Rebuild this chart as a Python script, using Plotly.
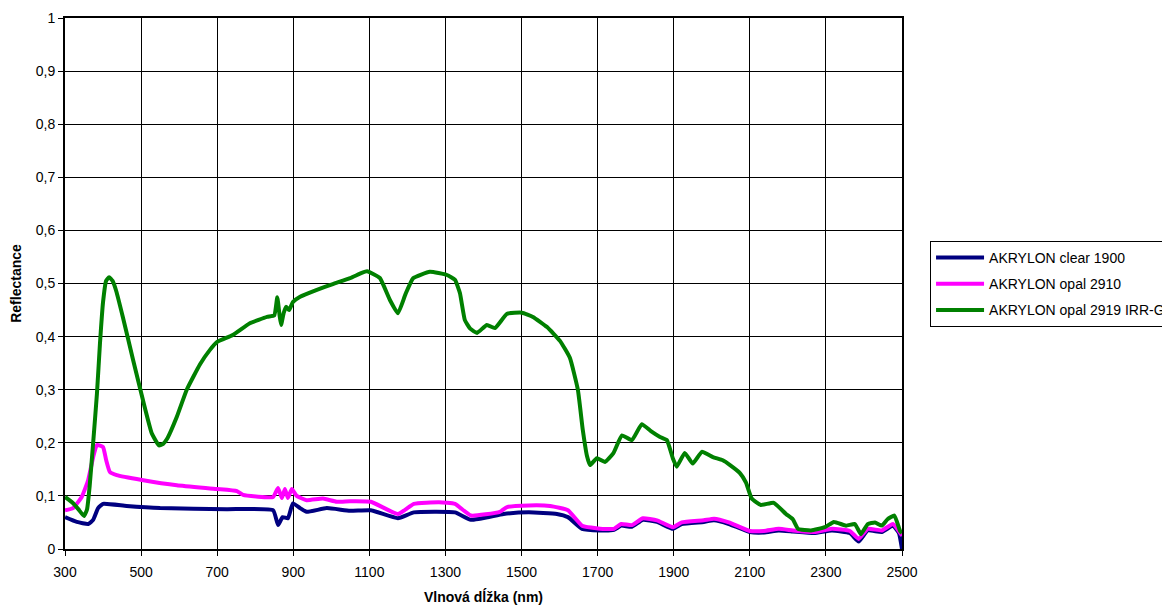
import plotly.graph_objects as go

clear_nm = [300, 331, 361, 374, 387, 400, 462, 550, 725, 847, 860, 872, 886, 899, 918, 935, 988, 1049,
            1104, 1175, 1217, 1325, 1367, 1453, 1519, 1593, 1622, 1659, 1706, 1743, 1762, 1790, 1819, 1856,
            1898, 1921, 1979, 2006, 2045, 2100, 2137, 2176, 2213, 2269, 2316, 2363, 2386, 2410, 2447, 2476,
            2492, 2500]
clear_r = [0.06, 0.051, 0.047, 0.055, 0.077, 0.085, 0.081, 0.077, 0.075, 0.073, 0.045, 0.06, 0.058, 0.086,
           0.077, 0.07, 0.077, 0.072, 0.073, 0.058, 0.069, 0.069, 0.055, 0.066, 0.069, 0.066, 0.06, 0.038,
           0.035, 0.036, 0.044, 0.042, 0.055, 0.051, 0.038, 0.047, 0.051, 0.054, 0.047, 0.032, 0.031, 0.035,
           0.033, 0.03, 0.035, 0.03, 0.014, 0.035, 0.032, 0.044, 0.03, 0.0]

opal_nm = [300, 321, 344, 361, 374, 384, 400, 408, 418, 436, 502, 594, 699, 752, 768, 847, 860, 870, 878,
           886, 896, 909, 935, 978, 1014, 1049, 1104, 1175, 1217, 1283, 1325, 1367, 1443, 1462, 1519, 1575,
           1622, 1659, 1706, 1743, 1762, 1790, 1819, 1856, 1898, 1921, 1979, 2006, 2045, 2100, 2137, 2176,
           2213, 2269, 2316, 2363, 2386, 2410, 2447, 2476, 2500]
opal_r = [0.073, 0.077, 0.098, 0.13, 0.173, 0.196, 0.192, 0.168, 0.145, 0.139, 0.13, 0.12, 0.113, 0.109,
          0.102, 0.098, 0.115, 0.096, 0.113, 0.096, 0.113, 0.1, 0.092, 0.095, 0.089, 0.09, 0.089, 0.066,
          0.085, 0.088, 0.085, 0.063, 0.07, 0.079, 0.082, 0.081, 0.073, 0.044, 0.038, 0.038, 0.047, 0.045,
          0.058, 0.054, 0.041, 0.05, 0.054, 0.057, 0.05, 0.034, 0.034, 0.038, 0.035, 0.032, 0.038, 0.034,
          0.019, 0.038, 0.035, 0.047, 0.025]

irr_nm = [300, 320, 335, 350, 358, 365, 374, 384, 392, 400, 408, 416, 425, 435, 452, 479, 505, 528, 547,
          558, 568, 594, 620, 655, 681, 700, 741, 786, 831, 850, 858, 864, 868, 875, 881, 889, 899, 918,
          962, 1004, 1049, 1080, 1094, 1110, 1128, 1154, 1175, 1195, 1215, 1259, 1304, 1325, 1338, 1351,
          1365, 1383, 1409, 1430, 1462, 1501, 1530, 1567, 1601, 1627, 1648, 1661, 1672, 1680, 1698, 1719,
          1741, 1764, 1790, 1816, 1840, 1864, 1882, 1898, 1908, 1929, 1950, 1974, 2003, 2029, 2048, 2074,
          2090, 2105, 2129, 2163, 2195, 2213, 2227, 2261, 2297, 2321, 2353, 2376, 2392, 2410, 2429, 2447,
          2462, 2480, 2495, 2500]
irr_r = [0.098, 0.087, 0.075, 0.062, 0.075, 0.12, 0.2, 0.293, 0.388, 0.465, 0.505, 0.512, 0.505, 0.485,
         0.437, 0.356, 0.28, 0.218, 0.195, 0.198, 0.207, 0.249, 0.3, 0.348, 0.375, 0.39, 0.403, 0.425,
         0.437, 0.44, 0.474, 0.44, 0.422, 0.445, 0.456, 0.45, 0.465, 0.475, 0.488, 0.499, 0.51, 0.52, 0.523,
         0.518, 0.51, 0.469, 0.444, 0.48, 0.51, 0.522, 0.516, 0.507, 0.482, 0.431, 0.415, 0.407, 0.422,
         0.416, 0.443, 0.445, 0.437, 0.418, 0.392, 0.36, 0.3, 0.224, 0.175, 0.158, 0.171, 0.164, 0.18,
         0.214, 0.205, 0.235, 0.222, 0.211, 0.205, 0.17, 0.155, 0.181, 0.161, 0.183, 0.173, 0.167, 0.158,
         0.143, 0.125, 0.095, 0.083, 0.087, 0.066, 0.056, 0.038, 0.035, 0.041, 0.051, 0.044, 0.047, 0.028,
         0.047, 0.05, 0.044, 0.056, 0.063, 0.034, 0.03]

names = ["AKRYLON clear 1900", "AKRYLON opal 2910", "AKRYLON opal 2919 IRR-GOLD"]
colors = ["#000080", "#FF00FF", "#008000"]

x_ticks = list(range(300, 2501, 200))
y_ticks = [i / 10 for i in range(11)]
y_labels = ["0"] + [f"0,{i}" for i in range(1, 10)] + ["1"]

fig = go.Figure()
for nm, r, name, col in zip([clear_nm, opal_nm, irr_nm], [clear_r, opal_r, irr_r], names, colors):
    fig.add_trace(go.Scatter(x=nm, y=r, mode="lines", name=name, legendgroup=name,
                             line=dict(color=col, width=4, shape="spline", smoothing=0.4)))

fnt = dict(family="Liberation Sans, Arial, sans-serif", size=14, color="black")
fig.update_layout(
    width=1162, height=597,
    margin=dict(l=57, r=268, t=10, b=56, autoexpand=False),
    paper_bgcolor="white", plot_bgcolor="white",
    font=fnt,
    showlegend=True,
    legend=dict(x=1.0335, y=0.5800, xanchor="left", yanchor="top",
                bordercolor="black", borderwidth=1, bgcolor="white",
                font=dict(family="Liberation Sans, Arial, sans-serif", size=14, color="black"),
                tracegroupgap=5, itemwidth=48),
    xaxis=dict(range=[300, 2500], tickvals=x_ticks, ticktext=[str(v) for v in x_ticks],
               showgrid=True, gridcolor="black", gridwidth=1,
               showline=True, linecolor="black", linewidth=2, mirror=True,
               ticks="outside", ticklen=5, tickcolor="black", zeroline=False,
               ticklabelstandoff=4,
               title=dict(text="<b>Vlnová dĺžka (nm)</b>", font=fnt, standoff=14)),
    yaxis=dict(range=[0, 1], tickvals=y_ticks, ticktext=y_labels,
               showgrid=True, gridcolor="black", gridwidth=1,
               showline=True, linecolor="black", linewidth=2, mirror=True,
               ticks="outside", ticklen=5, tickcolor="black", zeroline=False,
               title=dict(text="<b>Reflectance</b>", font=fnt, standoff=11)),
)

fig.write_html("out.html")
